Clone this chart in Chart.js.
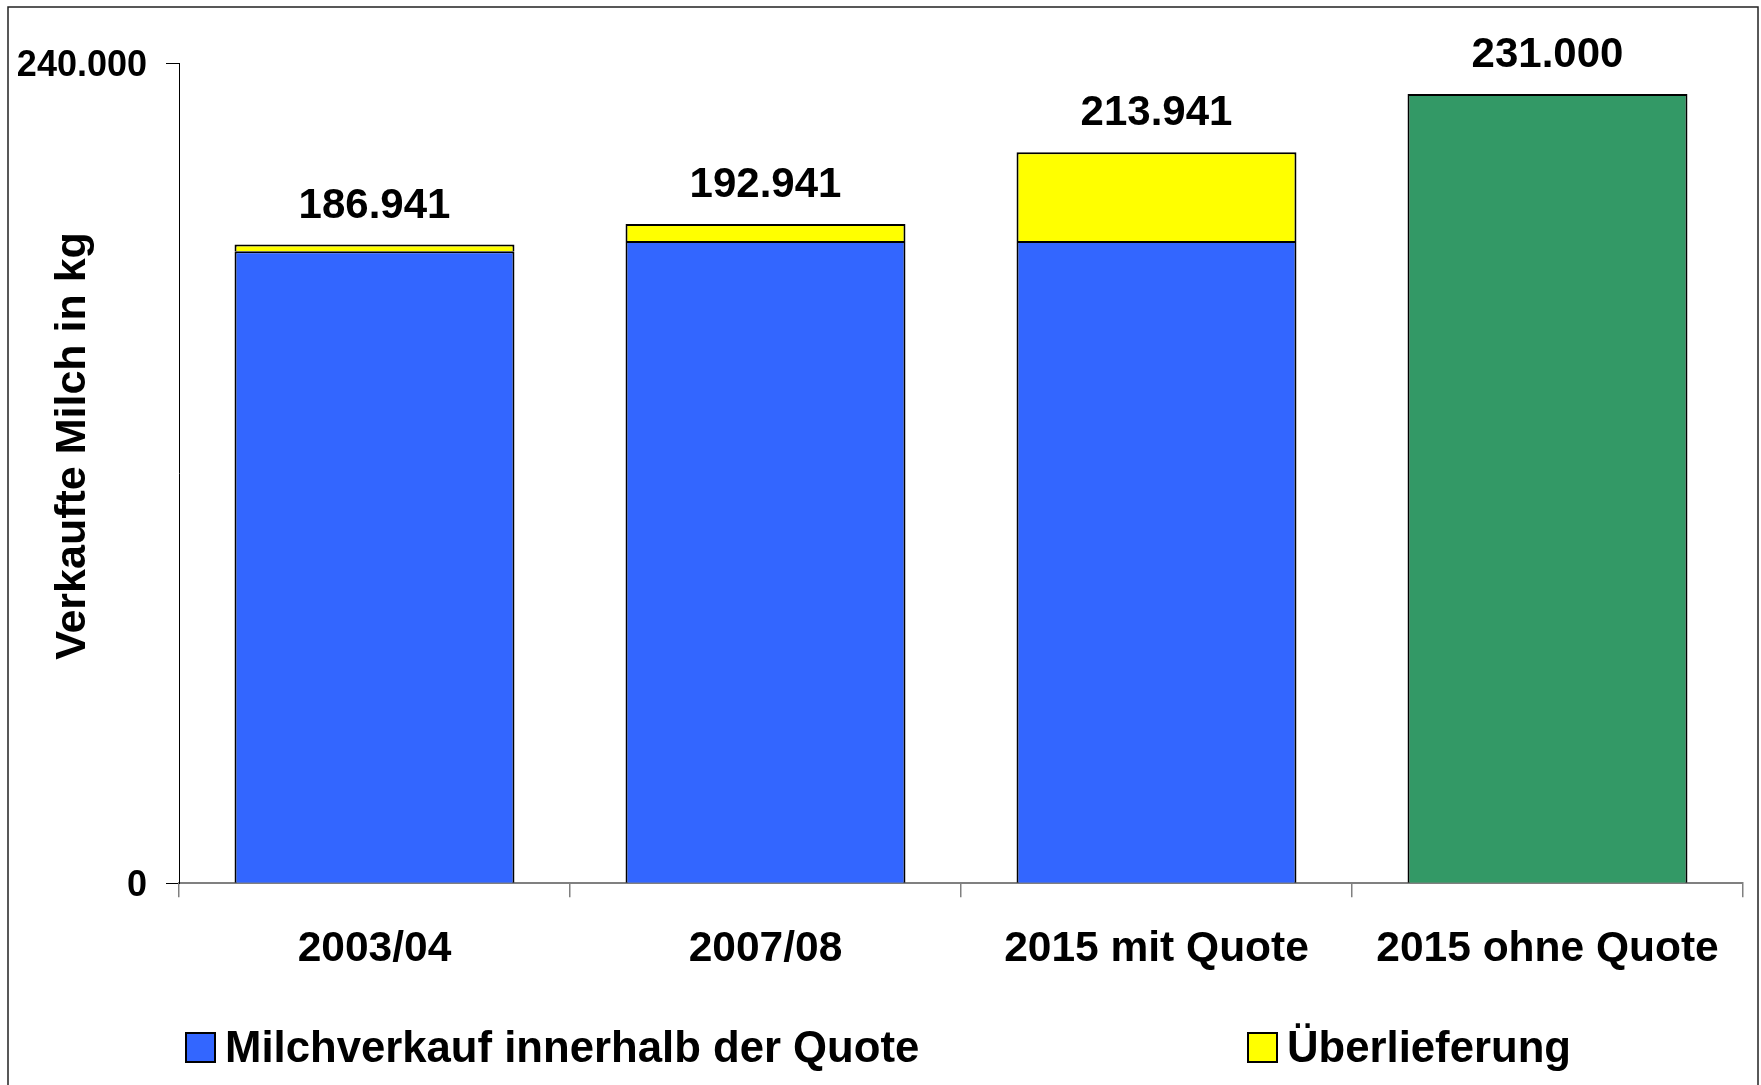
<!DOCTYPE html>
<html>
<head>
<meta charset="utf-8">
<script src="https://cdn.jsdelivr.net/npm/chart.js@4.4.1/dist/chart.umd.min.js"></script>
<style>
  html, body { margin: 0; padding: 0; background: #ffffff; }
  #wrap { width: 1761px; height: 1085px; position: relative; }
</style>
</head>
<body>
<div id="wrap"><canvas id="c" width="1761" height="1085"></canvas></div>
<script>
// ---- data ----
const categories = ['2003/04', '2007/08', '2015 mit Quote', '2015 ohne Quote'];
const quoteSales = [185000, 188000, 188000, null];      // Milchverkauf innerhalb der Quote
const overDelivery = [1941, 4941, 25941, null];         // Überlieferung
const withoutQuota = [null, null, null, 231000];        // 2015 ohne Quote
const seriesNames = ['Milchverkauf innerhalb der Quote', 'Überlieferung', '2015 ohne Quote'];
const yTickValues = [0, 240000];
const yAxisTitle = 'Verkaufte Milch in kg';

// ---- helpers ----
const FONT = "'Liberation Sans', Arial, Helvetica, sans-serif";
function fmtDE(v) {
  const s = Math.round(v).toString();
  return s.replace(/\B(?=(\d{3})+(?!\d))/g, '.');
}

const framePlugin = {
  id: 'frame',
  beforeDraw(chart) {
    const ctx = chart.ctx;
    ctx.save();
    ctx.fillStyle = '#ffffff';
    ctx.fillRect(0, 0, chart.width, chart.height);
    ctx.strokeStyle = '#222222';
    ctx.lineWidth = 1.5;
    ctx.strokeRect(8, 7, 1750, 1100);
    ctx.restore();
  }
};

const totalsPlugin = {
  id: 'totals',
  afterDatasetsDraw(chart) {
    const ctx = chart.ctx;
    const xs = chart.scales.x, ys = chart.scales.y;
    ctx.save();
    ctx.font = 'bold 42px ' + FONT;
    ctx.fillStyle = '#000';
    ctx.textAlign = 'center';
    ctx.textBaseline = 'alphabetic';
    categories.forEach((c, i) => {
      let sum = 0;
      chart.data.datasets.forEach(ds => { const v = ds.data[i]; if (v != null) sum += v; });
      const x = xs.getPixelForValue(i);
      const y = ys.getPixelForValue(sum);
      ctx.fillText(fmtDE(sum), x, y - 27);
    });
    ctx.restore();
  }
};

const yTitlePlugin = {
  id: 'ytitle',
  afterDraw(chart) {
    const ctx = chart.ctx;
    ctx.save();
    ctx.translate(85, 446);
    ctx.rotate(-Math.PI / 2);
    ctx.font = 'bold 43px ' + FONT;
    ctx.fillStyle = '#000';
    ctx.textAlign = 'center';
    ctx.textBaseline = 'alphabetic';
    ctx.fillText(yAxisTitle, 0, 0);
    ctx.restore();
  }
};

const legendPlugin = {
  id: 'customLegend',
  afterDraw(chart) {
    const ctx = chart.ctx;
    const items = [
      { ds: chart.data.datasets[0], x: 186 },
      { ds: chart.data.datasets[1], x: 1248 }
    ];
    ctx.save();
    ctx.font = 'bold 43.7px ' + FONT;
    ctx.textBaseline = 'alphabetic';
    ctx.textAlign = 'left';
    items.forEach(it => {
      ctx.fillStyle = it.ds.backgroundColor;
      ctx.fillRect(it.x, 1033, 29, 29);
      ctx.strokeStyle = '#000';
      ctx.lineWidth = 2;
      ctx.strokeRect(it.x, 1033, 29, 29);
      ctx.fillStyle = '#000';
      ctx.fillText(it.ds.label, it.x + 39, 1062);
    });
    ctx.restore();
  }
};

new Chart(document.getElementById('c'), {
  type: 'bar',
  data: {
    labels: categories,
    datasets: [
      { label: seriesNames[0], data: quoteSales, backgroundColor: '#3366FF', borderColor: '#000', borderWidth: 2 },
      { label: seriesNames[1], data: overDelivery, backgroundColor: '#FFFF00', borderColor: '#000', borderWidth: 2 },
      { label: seriesNames[2], data: withoutQuota, backgroundColor: '#339966', borderColor: '#000', borderWidth: 2 }
    ]
  },
  options: {
    responsive: false,
    animation: false,
    devicePixelRatio: 1,
    categoryPercentage: 1.0,
    barPercentage: 0.716,
    layout: { padding: { left: 0, right: 18, top: 63.3, bottom: 101.7 } },
    plugins: {
      legend: { display: false },
      tooltip: { enabled: false },
      title: { display: false }
    },
    scales: {
      x: {
        stacked: true,
        grid: { offset: true, drawOnChartArea: false, drawTicks: true, tickLength: 14, color: '#808080', lineWidth: 1.5 },
        border: { color: '#808080', width: 2 },
        ticks: { font: { family: FONT, size: 42.5, weight: 'bold' }, color: '#000', padding: 26, maxRotation: 0, autoSkip: false },
        afterFit(s) { s.height = 100; }
      },
      y: {
        stacked: true,
        min: 0,
        max: 240000,
        afterBuildTicks(s) { s.ticks = yTickValues.map(v => ({ value: v })); },
        grid: { drawOnChartArea: false, drawTicks: true, tickLength: 13, color: '#000', lineWidth: 1 },
        border: { color: '#000', width: 1 },
        ticks: { font: { family: FONT, size: 36, weight: 'bold' }, color: '#000', padding: 19, labelOffset: 3, callback: v => fmtDE(v) },
        afterFit(s) { s.width = 179; }
      }
    }
  },
  plugins: [framePlugin, totalsPlugin, yTitlePlugin, legendPlugin]
});
</script>
</body>
</html>
